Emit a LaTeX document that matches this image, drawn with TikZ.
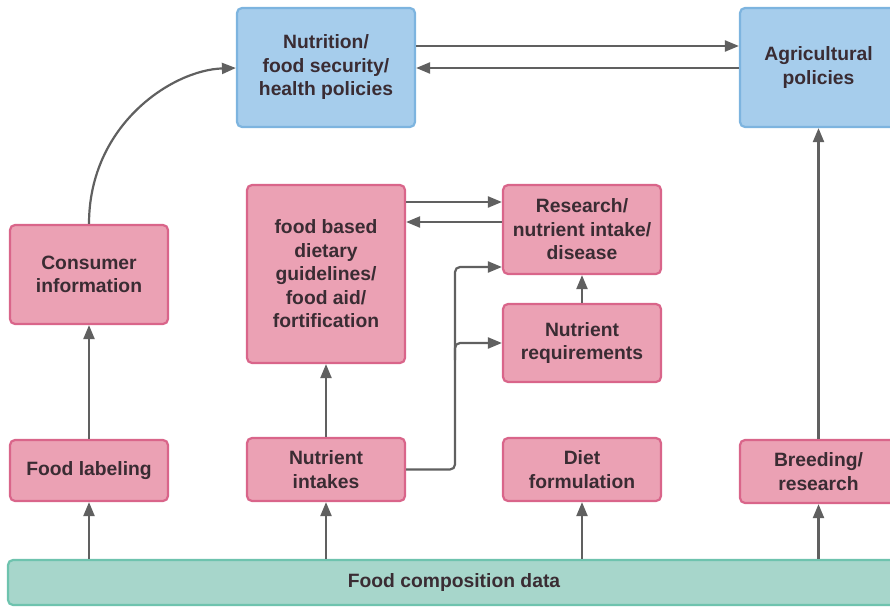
\documentclass[tikz,border=0pt]{standalone}
\usepackage{fontspec}
\setmainfont{Liberation Sans}
\usetikzlibrary{arrows.meta}
\definecolor{pinkfill}{HTML}{EBA1B4}
\definecolor{pinkline}{HTML}{D9658A}
\definecolor{bluefill}{HTML}{A6CDEC}
\definecolor{blueline}{HTML}{7DB4DF}
\definecolor{tealfill}{HTML}{A7D6CB}
\definecolor{tealline}{HTML}{6EC3AE}
\definecolor{boxtext}{HTML}{3A2C33}
\definecolor{linkgray}{HTML}{606060}
\tikzset{
  box/.style={draw, line width=2.2pt, rounded corners=5pt, align=center,
    text=boxtext, font=\fontsize{19.3}{23.5}\selectfont\bfseries, inner sep=2pt},
  pinkbox/.style={box, fill=pinkfill, draw=pinkline},
  bluebox/.style={box, fill=bluefill, draw=blueline},
  tealbox/.style={box, fill=tealfill, draw=tealline},
  link/.style={draw=linkgray, line width=2.2pt,
    -{Triangle[length=14pt,width=11pt]}},
}
\begin{document}
\begin{tikzpicture}[x=1pt,y=-1pt]
\useasboundingbox (0,0) rectangle (890,607);
\begin{scope}
\clip (0,0) rectangle (890,607);
% policy level
\node[bluebox, minimum width=178pt, minimum height=119pt] (nut) at (326,67.5)
  {Nutrition/\\food security/\\health policies};
\node[bluebox, minimum width=157pt, minimum height=119pt] (agr) at (818.5,67.5)
  {Agricultural\\policies};
% middle level
\node[pinkbox, minimum width=158pt, minimum height=99pt] (cons) at (89,274.5)
  {Consumer\\information};
\node[pinkbox, minimum width=158pt, minimum height=178pt] (fbdg) at (326,274)
  {food based\\dietary\\guidelines/\\food aid/\\fortification};
\node[pinkbox, minimum width=158pt, minimum height=89pt] (res) at (582,229.5)
  {Research/\\nutrient intake/\\disease};
\node[pinkbox, minimum width=158pt, minimum height=78pt] (req) at (582,343)
  {Nutrient\\requirements};
% application level
\node[pinkbox, minimum width=158pt, minimum height=61pt] (lab) at (89,470.5)
  {Food labeling};
\node[pinkbox, minimum width=158pt, minimum height=63pt] (intk) at (326,469.5)
  {Nutrient\\intakes};
\node[pinkbox, minimum width=158pt, minimum height=63pt] (diet) at (582,469.5)
  {Diet\\formulation};
\node[pinkbox, minimum width=157pt, minimum height=63pt] (breed) at (818.5,471.5)
  {Breeding/\\research};
% data base
\node[tealbox, minimum width=892pt, minimum height=45pt] (fcd) at (454,582.5)
  {Food composition data};
\end{scope}

% data feeds every application
\foreach \t in {lab,intk,diet,breed}
  \draw[link] (fcd.north -| \t) -- (\t.south);

% upward flows
\draw[link] (lab) -- (cons);
\draw[link] (intk) -- (fbdg);
\draw[link] (req) -- (res);
\draw[link] (breed) -- (agr);
\draw[link] (cons.north) .. controls (89,125) and (172,70) .. (nut.west |- 0,68);

% policy exchange
\draw[link] (nut.east |- 0,46) -- (agr.west |- 0,46);
\draw[link] (agr.west |- 0,68) -- (nut.east |- 0,68);

% guidelines and research exchange
\draw[link] (fbdg.east |- 0,202) -- (res.west |- 0,202);
\draw[link] (res.west |- 0,222) -- (fbdg.east |- 0,222);

% intakes feed research and requirements
\draw[link, rounded corners=5pt] (intk.east) -| (455,267) -- (res.west |- 0,267);
\draw[link, rounded corners=5pt] (455,360) |- (req.west);
\end{tikzpicture}
\end{document}
